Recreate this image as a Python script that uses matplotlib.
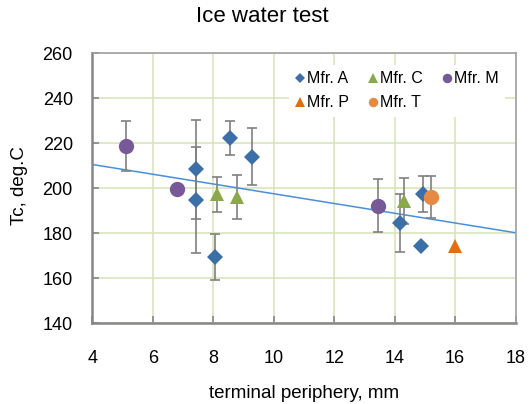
import matplotlib
matplotlib.use("Agg")
import matplotlib.pyplot as plt
import numpy as np

plt.rcParams['font.family'] = ['Liberation Sans', 'DejaVu Sans']

# --- data ---
a_x = [7.43, 7.43, 8.06, 8.56, 9.28, 14.19, 14.94, 14.88]
a_y = [208.3, 194.8, 169.5, 222.3, 214.0, 184.4, 197.2, 174.5]
a_e = [22.0, 23.5, 10.3, 7.6, 12.7, 12.8, 8.0, 0.0]

c_x = [8.12, 8.78, 14.32]
c_y = [197.3, 196.2, 194.3]
c_e = [7.7, 9.7, 10.4]

m_x = [5.12, 6.81, 13.45]
m_y = [218.7, 199.7, 192.2]
m_e = [11.3, 0.0, 11.7]

p_x = [16.01]
p_y = [174.4]
p_e = [0.0]

t_x = [15.22]
t_y = [196.0]
t_e = [9.3]

trend_x = [4, 18]
trend_y = [210.5, 180.2]

xticks = [4, 6, 8, 10, 12, 14, 16, 18]
yticks = [140, 160, 180, 200, 220, 240, 260]

series = [
    ("Mfr. A", a_x, a_y, a_e, "D", 8.0, "#3C6EA8"),
    ("Mfr. C", c_x, c_y, c_e, "^", 10.5, "#8BA94A"),
    ("Mfr. M", m_x, m_y, m_e, "o", 11, "#765996"),
    ("Mfr. P", p_x, p_y, p_e, "^", 10.5, "#E56E0C"),
    ("Mfr. T", t_x, t_y, t_e, "o", 11, "#E68A43"),
]

fig = plt.figure(figsize=(5.29, 4.04), dpi=100)
ax = fig.add_axes([0.1745, 0.1998, 0.80, 0.669])

ax.set_xlim(4, 18)
ax.set_ylim(140, 260)
ax.set_xticks(xticks)
ax.set_yticks(yticks)
ax.grid(True, color="#D9E5BC", linewidth=1.2, zorder=0)
ax.set_axisbelow(True)

ax.plot(trend_x, trend_y, color="#4A8FDC", linewidth=1.1, zorder=2)

handles = {}
for name, xs, ys, es, mk, ms, col in series:
    xs = np.array(xs); ys = np.array(ys); es = np.array(es)
    mask = es > 0
    if mask.any():
        ax.errorbar(xs[mask], ys[mask], yerr=es[mask], fmt="none",
                    ecolor="#808080", elinewidth=1.2, capsize=3.3,
                    capthick=1.2, zorder=3)
    ax.plot(xs, ys, linestyle="none", marker=mk, markersize=ms,
            color=col, markeredgewidth=0, zorder=4)
    h, = ax.plot([], [], linestyle="none", marker=mk,
                 markersize=ms * 0.62, color=col, markeredgewidth=0)
    handles[name] = h

order = ["Mfr. A", "Mfr. P", "Mfr. C", "Mfr. T", "Mfr. M"]
ax.legend([handles[n] for n in order], order, ncol=3, loc="upper right",
          bbox_to_anchor=(0.995, 0.985), frameon=True, framealpha=1,
          edgecolor="none", facecolor="white",
          fontsize=11.5, handlelength=0.6, handletextpad=0.15,
          columnspacing=1.2, labelspacing=0.55, borderpad=0.4)

for side in ["left", "bottom"]:
    ax.spines[side].set_color("#868686")
    ax.spines[side].set_linewidth(1.8)
for side in ["top", "right"]:
    ax.spines[side].set_color("#A0A0A0")
    ax.spines[side].set_linewidth(1.2)

ax.tick_params(direction="in", length=5, width=1.2, color="#868686",
               labelsize=13)
ax.tick_params(axis="x", pad=19)
ax.tick_params(axis="y", pad=14)

ax.set_xlabel("terminal periphery, mm", fontsize=13.5)
ax.set_ylabel("Tc, deg.C", fontsize=13.5)
ax.xaxis.set_label_coords(0.5, -0.228)
ax.yaxis.set_label_coords(-0.152, 0.51)
fig.text(0.496, 0.958, "Ice water test", fontsize=16, ha="center", va="center")

fig.savefig("out.png", dpi=100)
